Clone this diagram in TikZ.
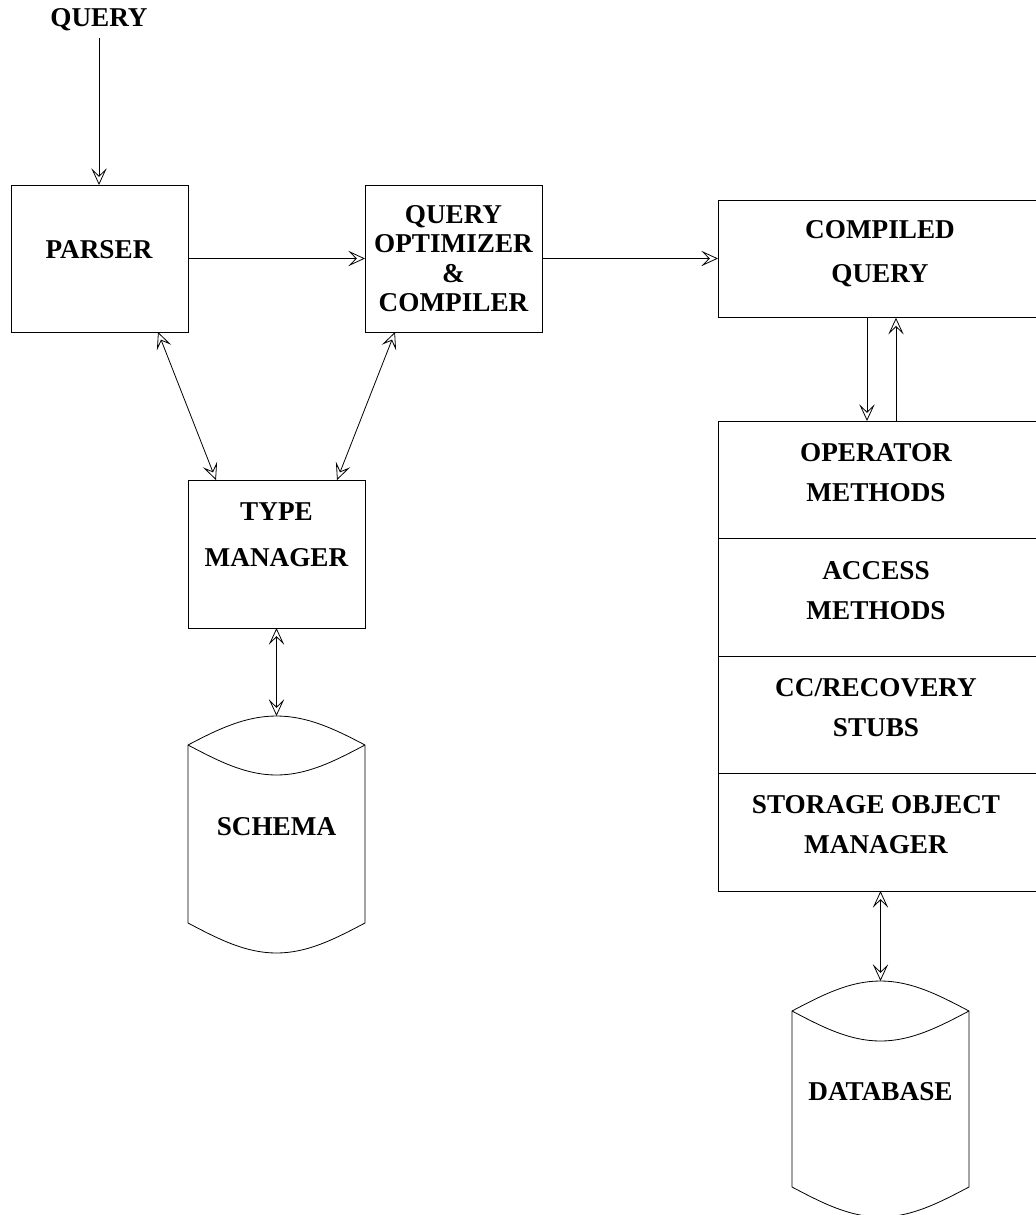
\documentclass[tikz,border=0pt]{standalone}
\usepackage{fontspec}
\setmainfont{Liberation Serif}
\usetikzlibrary{arrows.meta}
\tikzset{
  box/.style={draw, line width=0.6pt, inner sep=0pt, outer sep=0pt, minimum width=132.75pt, minimum height=110.25pt},
  wide/.style={draw, line width=0.6pt, inner sep=0pt, outer sep=0pt, minimum width=241.5pt, minimum height=88.125pt},
  lbl/.style={font=\fontsize{20.4}{21.75}\selectfont\bfseries, align=center, inner sep=0pt},
  tip/.tip={Stealth[open, length=12.5pt, width=11.5pt, inset=5.5pt, line width=0.6pt]},
  arr/.style={line width=0.6pt, -tip},
  darr/.style={line width=0.6pt, tip-tip},
  cyl/.style={draw, line width=0.6pt, line join=round}
}
\begin{document}
\begin{tikzpicture}[x=0.75pt, y=-0.75pt]
\useasboundingbox (0,0) rectangle (1036,1215);
\clip (0,0) rectangle (1036,1215);

% boxes
\node[box] (parser) at (99.5,258.5) {};
\node[box] (optimizer) at (453.5,258.5) {};
\node[box, minimum height=111pt] (type) at (276.5,554) {};
\node[wide] (compiled) at (879,259) {};
\node[wide] (op) at (879,479.75) {};
\node[wide] (acc) at (879,597.25) {};
\node[wide] (cc) at (879,714.75) {};
\node[wide] (som) at (879,832.25) {};

% labels
\node[lbl] (querylabel) at (99,20) {QUERY};
\node[lbl] (parserlabel) at (99,250) {PARSER};
\node[lbl] (optlabel) at (453.5,258.5) {QUERY\\[0.2pt]OPTIMIZER\\[0.2pt]\&\\[0.2pt]COMPILER};
\node[lbl] (compiledlabel) at (880,254) {COMPILED\\[11.25pt]QUERY};
\node[lbl] (typelabel) at (276.5,535) {TYPE\\[12.75pt]MANAGER};
\node[lbl] (oplabel) at (876,473) {OPERATOR\\[8.25pt]METHODS};
\node[lbl] (acclabel) at (876,590.5) {ACCESS\\[8.25pt]METHODS};
\node[lbl] (cclabel) at (876,708) {CC/RECOVERY\\[8.25pt]STUBS};
\node[lbl] (somlabel) at (876,825) {STORAGE OBJECT\\[8.25pt]MANAGER};

% schema cylinder
\coordinate (schematop) at (276.5,716);
\draw[cyl] (188,745) .. controls (217.5,729.5) and (245,716) .. (schematop)
  .. controls (308,716) and (335.5,729.5) .. (365,745)
  -- (365,923) .. controls (335.5,938.5) and (308,953) .. (276.5,953)
  .. controls (245,953) and (217.5,938.5) .. (188,923) -- cycle;
\draw[cyl] (188,745) .. controls (217.5,760.5) and (245,775) .. (276.5,775)
  .. controls (308,775) and (335.5,760.5) .. (365,745);
\node[lbl] (schemalabel) at (276.5,827) {SCHEMA};

% database cylinder
\coordinate (dbtop) at (880.5,981);
\draw[cyl] (792,1011) .. controls (821.5,995.5) and (849,981) .. (dbtop)
  .. controls (912,981) and (939.5,995.5) .. (969,1011)
  -- (969,1187) .. controls (939.5,1202.5) and (912,1217) .. (880.5,1217)
  .. controls (849,1217) and (821.5,1202.5) .. (792,1187) -- cycle;
\draw[cyl] (792,1011) .. controls (821.5,1026.5) and (849,1041) .. (880.5,1041)
  .. controls (912,1041) and (939.5,1026.5) .. (969,1011);
\node[lbl] (dblabel) at (880.5,1092) {DATABASE};

% connectors
\coordinate (qstart) at (99,38);
\draw[arr] (qstart) -- (parser.north -| qstart);
\draw[arr] (parser.east) -- (optimizer.west);
\draw[arr] (optimizer.east) -- (compiled.west |- optimizer.east);
\draw[darr] ([xshift=43.875pt]parser.south) -- ([xshift=-45.375pt]type.north);
\draw[darr] ([xshift=-43.875pt]optimizer.south) -- ([xshift=45.375pt]type.north);
\draw[darr] (type.south) -- (schematop);
\draw[arr] ([xshift=-9pt]compiled.south) -- ([xshift=-9pt]op.north);
\draw[arr] ([xshift=12.75pt]op.north) -- ([xshift=12.75pt]compiled.south);
\draw[darr] (som.south -| dbtop) -- (dbtop);
\end{tikzpicture}
\end{document}
